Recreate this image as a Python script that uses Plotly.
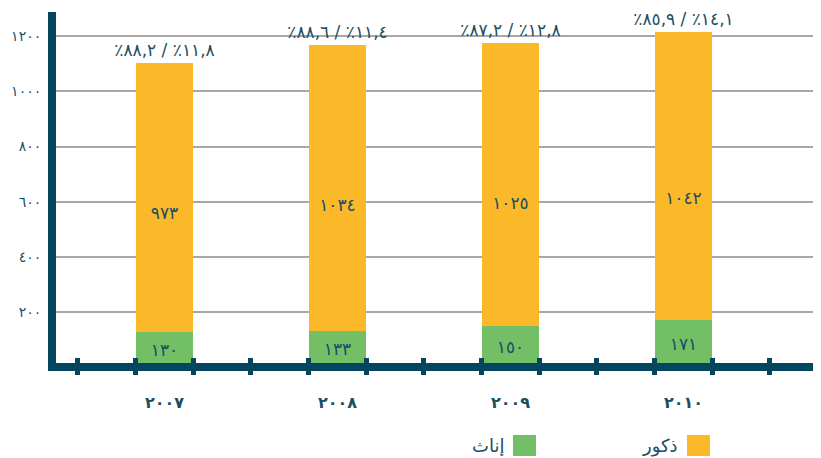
import plotly.graph_objects as go

# data
years = ["٢٠٠٧", "٢٠٠٨", "٢٠٠٩", "٢٠١٠"]
female = [130, 133, 150, 171]
male = [973, 1034, 1025, 1042]
y_ticks = [200, 400, 600, 800, 1000, 1200]
female_name = "إناث"
male_name = "ذكور"

GREEN = "#72bf66"
ORANGE = "#fbb829"
TEAL = "#1b4d63"
AXIS = "#04465f"
FONT = "DejaVu Sans"

ARABIC_DIGITS = str.maketrans("0123456789", "٠١٢٣٤٥٦٧٨٩")
LRM = "\u200e"


def ar(value):
    return str(value).translate(ARABIC_DIGITS)


def pct_label(m, f):
    total = m + f
    mp = f"{m / total * 100:.1f}".replace(".", ",")
    fp = f"{f / total * 100:.1f}".replace(".", ",")
    # LRM marks keep the pieces in left-to-right visual order
    return LRM + "٪" + ar(mp) + LRM + " / " + LRM + "٪" + ar(fp) + LRM


x = list(range(len(years)))
totals = [f + m for f, m in zip(female, male)]

fig = go.Figure()

fig.add_bar(x=x, y=female, name=female_name, marker=dict(color=GREEN, line_width=0),
            text=[ar(v) for v in female], textposition="inside",
            insidetextanchor="middle", textangle=0, constraintext="none",
            textfont=dict(family=FONT, size=17, color=TEAL))

fig.add_bar(x=x, y=male, name=male_name, marker=dict(color=ORANGE, line_width=0),
            text=[pct_label(m, f) for m, f in zip(male, female)],
            textposition="outside", textangle=0, constraintext="none",
            cliponaxis=False,
            textfont=dict(family=FONT, size=17, color=TEAL))

# male counts sit around the middle of the whole bar
fig.add_scatter(x=x, y=[t / 2 for t in totals], mode="text",
                text=[ar(v) for v in male],
                textfont=dict(family=FONT, size=17, color=TEAL),
                showlegend=False, hoverinfo="skip", xaxis="x2")

x_range = [-0.627, 3.795]
tick_pos = [-0.5 + k / 3 for k in range(13)]

# the page body adds an 8px margin, so the figure is 8px smaller each way
fig.update_layout(
    width=813, height=450,
    margin=dict(l=48, r=0, t=4, b=95, autoexpand=False),
    paper_bgcolor="white", plot_bgcolor="white",
    barmode="stack", bargap=2 / 3,
    showlegend=False,
    font=dict(family=FONT, color=TEAL),
    xaxis=dict(range=x_range, tickvals=x, ticktext=years, ticks="", ticklen=0,
               showgrid=False, zeroline=False, automargin=False,
               showline=True, linewidth=8, linecolor=AXIS,
               tickfont=dict(family=FONT, size=16, color=TEAL, weight="bold"),
               ticklabelstandoff=18,
               minor=dict(ticks="outside", tick0=-0.5, dtick=1 / 3,
                          ticklen=4, tickwidth=5, tickcolor=AXIS, showgrid=False)),
    xaxis2=dict(range=x_range, overlaying="x", anchor="y", tickvals=tick_pos,
                ticks="inside", ticklen=5, tickwidth=5, tickcolor=AXIS,
                showticklabels=False, showgrid=False, zeroline=False,
                showline=False, automargin=False),
    yaxis=dict(range=[16.3, 1287], tickvals=y_ticks,
               ticktext=[ar(v) for v in y_ticks], ticks="", ticklen=0,
               showgrid=True, gridcolor="#a8a8a8", gridwidth=1.5,
               zeroline=False, showline=True, linewidth=8, linecolor=AXIS,
               automargin=False,
               tickfont=dict(family=FONT, size=14, color=TEAL),
               ticklabelstandoff=4),
)

# legend drawn right-to-left: text first, then the colour key
legend_items = [(female_name, GREEN, 0.5974), (male_name, ORANGE, 0.8248)]
for name, color, left in legend_items:
    fig.add_shape(type="rect", xref="paper", yref="paper",
                  x0=left, x1=left + 0.030, y0=-0.265, y1=-0.205,
                  fillcolor=color, line_width=0)
    fig.add_annotation(xref="paper", yref="paper", x=left - 0.0092, y=-0.236,
                       text=name, showarrow=False, xanchor="right", yanchor="middle",
                       font=dict(family=FONT, size=18, color=TEAL))

fig.write_html("out.html")
